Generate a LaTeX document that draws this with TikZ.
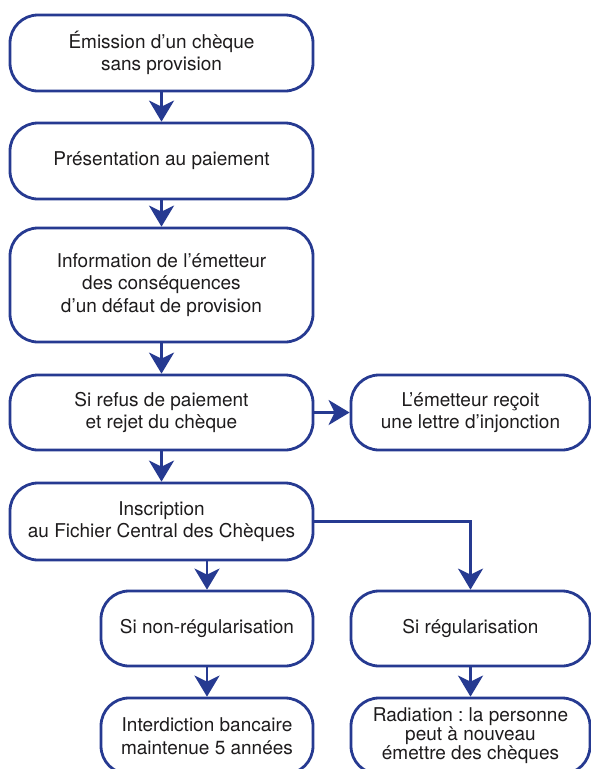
\documentclass[tikz,border=0pt]{standalone}
\usepackage{fontspec}
\setmainfont{TeX Gyre Heros}
\usetikzlibrary{arrows.meta}
\definecolor{boxblue}{RGB}{38,58,145}
\definecolor{txt}{RGB}{30,28,29}
\begin{document}
\begin{tikzpicture}[x=1pt,y=-1pt,
  flowbox/.style={draw=boxblue, line width=2.8pt, rounded corners=28pt, fill=white,
    text=txt, align=center, inner sep=0pt,
    font=\fontsize{19}{22.5}\selectfont\frenchspacing},
  wide/.style={flowbox, minimum width=303pt},
  side/.style={flowbox, minimum width=239pt},
  mid/.style={flowbox, minimum width=212pt},
  conn/.style={draw=boxblue, line width=2.8pt,
    -{Stealth[length=21pt,width=25pt,inset=6pt]}}]
\fill[white] (0,0) rectangle (591,769);
\useasboundingbox (0,0) rectangle (591,769);
\clip (0,0) rectangle (591,769);

\node[wide, minimum height=76pt] (b1) at (161.5,53) {Émission d’un chèque\\sans provision};
\node[wide, minimum height=76pt] (b2) at (161.5,161) {Présentation au paiement};
\node[wide, minimum height=114pt] (b3) at (161.5,285) {Information de l’émetteur\\des conséquences\\d’un défaut de provision};
\node[wide, minimum height=75pt] (b4) at (161.5,412.5) {Si refus de paiement\\et rejet du chèque};
\node[side, minimum height=75pt] (b4b) at (470.5,412.5) {L’émetteur reçoit\\une lettre d’injonction};
\node[wide, minimum height=77pt] (b5) at (161.5,521.5) {Inscription\\au Fichier Central des Chèques};
\node[mid, minimum height=75pt] (b6) at (207,628.5) {Si non-régularisation};
\node[side, minimum height=75pt] (b6b) at (470.5,628.5) {Si régularisation};
\node[mid, minimum height=76pt] (b7) at (207,736) {Interdiction bancaire\\maintenue 5 années};
\node[side, minimum height=76pt] (b7b) at (470.5,736) {\raisebox{9pt}{\begin{tabular}{@{}c@{}}Radiation : la personne\\[-3.5pt]peut à nouveau\\[-3.5pt]émettre des chèques\end{tabular}}};

\draw[conn] (b1.south) -- (b2.north);
\draw[conn] (b2.south) -- (b3.north);
\draw[conn] (b3.south) -- (b4.north);
\draw[conn] (b4.east) -- (b4b.west);
\draw[conn] (b4.south) -- (b5.north);
\draw[conn] (b6.north |- b5.south) -- (b6.north);
\draw[conn] (b5.east) -| (b6b.north);
\draw[conn] (b6.south) -- (b7.north);
\draw[conn] (b6b.south) -- (b7b.north);
\end{tikzpicture}
\end{document}
